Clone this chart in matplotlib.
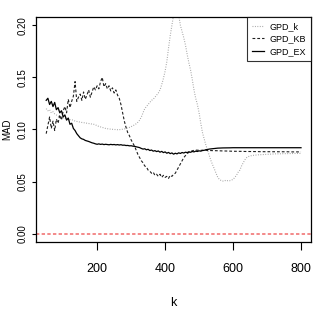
import matplotlib
matplotlib.use("Agg")
import matplotlib.pyplot as plt

plt.rcParams['font.family'] = ['Liberation Sans', 'DejaVu Sans']

# k grid, step 5 from 50 to 800
k = list(range(50, 801, 5))

# MAD values, one per k (rows of 10: 50-95, 100-145, ...)
gpd_k = [0.120, 0.118, 0.119, 0.116, 0.117, 0.115, 0.114, 0.113, 0.112, 0.112,
         0.111, 0.111, 0.110, 0.110, 0.1095, 0.1093, 0.109, 0.108, 0.1078, 0.1075,
         0.107, 0.1068, 0.1066, 0.1063, 0.106, 0.1058, 0.1055, 0.1052, 0.105, 0.1045,
         0.1035, 0.103, 0.1025, 0.102, 0.1015, 0.101, 0.1007, 0.1005, 0.1003, 0.1002,
         0.100, 0.100, 0.0998, 0.0998, 0.100, 0.1002, 0.1005, 0.101, 0.1015, 0.102,
         0.1027, 0.1035, 0.1045, 0.1055, 0.107, 0.109, 0.112, 0.116, 0.120, 0.122,
         0.124, 0.126, 0.128, 0.129, 0.131, 0.133, 0.135, 0.138, 0.143, 0.149,
         0.156, 0.165, 0.178, 0.190, 0.200, 0.210, 0.216, 0.218, 0.210, 0.200,
         0.194, 0.188, 0.181, 0.172, 0.164, 0.157, 0.148, 0.138, 0.130, 0.124,
         0.116, 0.106, 0.097, 0.091, 0.085, 0.080, 0.075, 0.070, 0.066, 0.062,
         0.058, 0.054, 0.052, 0.051, 0.0505, 0.0512, 0.0505, 0.051, 0.0508, 0.0515,
         0.052, 0.054, 0.056, 0.059, 0.061, 0.065, 0.068, 0.071, 0.073, 0.074,
         0.0745, 0.075, 0.0752, 0.0754, 0.0755, 0.0757, 0.0758, 0.0759, 0.076, 0.0761,
         0.0762, 0.0763, 0.0764, 0.0765, 0.0765, 0.0766, 0.0766, 0.0767, 0.0767, 0.0768,
         0.0768, 0.0768, 0.0769, 0.0769, 0.0769, 0.077, 0.077, 0.077, 0.077, 0.077,
         0.077]

gpd_kb = [0.096, 0.104, 0.112, 0.101, 0.108, 0.099, 0.110, 0.106, 0.114, 0.109,
          0.118, 0.122, 0.116, 0.129, 0.121, 0.127, 0.132, 0.146, 0.127, 0.131,
          0.134, 0.128, 0.136, 0.129, 0.133, 0.138, 0.131, 0.136, 0.141, 0.138,
          0.142, 0.139, 0.146, 0.150, 0.141, 0.144, 0.139, 0.142, 0.137, 0.140,
          0.135, 0.138, 0.133, 0.130, 0.124, 0.116, 0.108, 0.102, 0.097, 0.094,
          0.090, 0.087, 0.084, 0.080, 0.076, 0.073, 0.070, 0.068, 0.065, 0.064,
          0.061, 0.060, 0.058, 0.059, 0.056, 0.057, 0.055, 0.057, 0.054, 0.056,
          0.054, 0.055, 0.053, 0.056, 0.055, 0.057, 0.058, 0.061, 0.064, 0.067,
          0.070, 0.073, 0.075, 0.077, 0.078, 0.079, 0.0795, 0.080, 0.0802, 0.0801,
          0.0802, 0.0800, 0.0801, 0.0799, 0.0800, 0.0799, 0.0798, 0.0798, 0.0797, 0.0797,
          0.0796, 0.0796, 0.0795, 0.0795, 0.0794, 0.0794, 0.0793, 0.0793, 0.0792, 0.0792,
          0.0791, 0.0791, 0.0791, 0.0790, 0.0790, 0.0790, 0.0789, 0.0789, 0.0789, 0.0789,
          0.0788, 0.0788, 0.0788, 0.0788, 0.0788, 0.0787, 0.0787, 0.0787, 0.0787, 0.0787,
          0.0787, 0.0787, 0.0787, 0.0786, 0.0786, 0.0786, 0.0786, 0.0786, 0.0786, 0.0786,
          0.0786, 0.0786, 0.0786, 0.0785, 0.0785, 0.0785, 0.0785, 0.0785, 0.0785, 0.0785,
          0.0785]

gpd_ex = [0.128, 0.130, 0.124, 0.127, 0.122, 0.126, 0.119, 0.121, 0.116, 0.118,
          0.112, 0.114, 0.109, 0.111, 0.105, 0.106, 0.101, 0.099, 0.096, 0.094,
          0.092, 0.091, 0.0905, 0.0895, 0.089, 0.0885, 0.0878, 0.0872, 0.0868, 0.0862,
          0.0858, 0.0862, 0.0857, 0.0860, 0.0855, 0.0858, 0.0856, 0.0853, 0.0857, 0.0854,
          0.0856, 0.0852, 0.0855, 0.0851, 0.0854, 0.0849, 0.0850, 0.0846, 0.0847, 0.0843,
          0.0844, 0.0840, 0.0838, 0.0834, 0.0830, 0.0826, 0.0818, 0.0812, 0.0815, 0.0805,
          0.0810, 0.0798, 0.0803, 0.0792, 0.0797, 0.0788, 0.0794, 0.0782, 0.0790, 0.0778,
          0.0785, 0.0772, 0.0780, 0.0768, 0.0775, 0.0763, 0.0772, 0.0766, 0.0776, 0.0770,
          0.0779, 0.0774, 0.0782, 0.0778, 0.0786, 0.0781, 0.0789, 0.0785, 0.0792, 0.0789,
          0.0795, 0.0792, 0.0798, 0.0800, 0.0806, 0.0808, 0.0812, 0.0814, 0.0817, 0.0818,
          0.0820, 0.0821, 0.0822, 0.0822, 0.0823, 0.0823, 0.0824, 0.0824, 0.0824, 0.0825,
          0.0825, 0.0825, 0.0825, 0.0825, 0.0825, 0.0825, 0.0825, 0.0825, 0.0825, 0.0825,
          0.0825, 0.0825, 0.0825, 0.0825, 0.0825, 0.0825, 0.0825, 0.0825, 0.0825, 0.0825,
          0.0825, 0.0825, 0.0825, 0.0825, 0.0825, 0.0825, 0.0825, 0.0825, 0.0825, 0.0825,
          0.0825, 0.0825, 0.0825, 0.0825, 0.0825, 0.0825, 0.0825, 0.0825, 0.0825, 0.0825,
          0.0825]

fig = plt.figure(figsize=(3.2, 3.27), dpi=100)
ax = fig.add_axes([0.1125, 0.26, 0.86, 0.688])

ax.plot(k, gpd_k, color='#a0a0a0', lw=0.8, linestyle=(0, (0.8, 1.4)), label='GPD_k')
ax.plot(k, gpd_kb, color='#202020', lw=0.8, linestyle=(0, (2.5, 1.8)), label='GPD_KB')
ax.plot(k, gpd_ex, color='black', lw=0.9, label='GPD_EX')
ax.axhline(0, color='#f06a6a', lw=1.1, linestyle=(0, (2.2, 1.5)))

ax.set_xlim(20, 830)
ax.set_ylim(-0.008, 0.208)
ax.set_xticks([200, 400, 600, 800])
ax.set_yticks([0.0, 0.05, 0.10, 0.15, 0.20])
ax.set_yticklabels(['0.00', '0.05', '0.10', '0.15', '0.20'], rotation=90, va='center', fontsize=7)
ax.tick_params(axis='x', length=6, labelsize=9, pad=9)
ax.tick_params(axis='y', length=3, pad=3)
for s in ax.spines.values():
    s.set_linewidth(0.9)

ax.set_xlabel('k', fontsize=9, labelpad=16)
ax.set_ylabel('MAD', fontsize=7, labelpad=4)

leg = ax.legend(loc='upper right', fontsize=6.5, frameon=True, fancybox=False,
                borderaxespad=0, handlelength=1.3, handletextpad=0.6,
                labelspacing=0.35, borderpad=0.6)
leg.get_frame().set_edgecolor('black')
leg.get_frame().set_linewidth(0.8)

fig.savefig('out.png', dpi=100)
